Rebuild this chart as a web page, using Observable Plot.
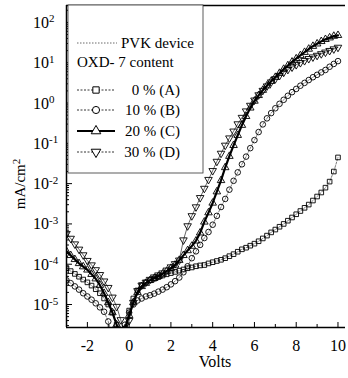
<!DOCTYPE html>
<html><head><meta charset="utf-8">
<script src="https://cdn.jsdelivr.net/npm/d3@7"></script>
<script src="https://cdn.jsdelivr.net/npm/@observablehq/plot@0.6"></script>
<style>
body{margin:0;background:#fff}
#chart svg{font-family:"Liberation Serif",serif;}
</style>
</head><body><div id="chart"></div>
<script>
// Bias voltage grid (V)
const volts = [-3.0,-2.8,-2.6,-2.4,-2.2,-2.0,-1.8,-1.6,-1.4,-1.2,-1.0,-0.8,-0.6,-0.4,-0.2,0.0,0.2,0.4,0.6,0.8,1.0,1.2,1.4,1.6,1.8,2.0,2.2,2.4,2.6,2.8,3.0,3.2,3.4,3.6,3.8,4.0,4.2,4.4,4.6,4.8,5.0,5.2,5.4,5.6,5.8,6.0,6.2,6.4,6.6,6.8,7.0,7.2,7.4,7.6,7.8,8.0,8.2,8.4,8.6,8.8,9.0,9.2,9.4,9.6,9.8,10.0];
// log10 of current density (mA/cm2)
const logA = [-4.10,-4.17,-4.24,-4.31,-4.38,-4.45,-4.53,-4.62,-4.72,-4.85,-5.00,-5.20,-5.50,-5.90,-5.60,-5.15,-4.85,-4.65,-4.52,-4.45,-4.40,-4.36,-4.32,-4.28,-4.25,-4.22,-4.19,-4.16,-4.13,-4.10,-4.08,-4.05,-4.03,-4.02,-3.98,-3.95,-3.92,-3.89,-3.85,-3.80,-3.75,-3.69,-3.63,-3.59,-3.54,-3.49,-3.43,-3.36,-3.29,-3.21,-3.14,-3.07,-3.00,-2.92,-2.84,-2.76,-2.68,-2.60,-2.52,-2.42,-2.32,-2.22,-2.10,-1.95,-1.70,-1.35];
const logB = [-4.40,-4.47,-4.55,-4.63,-4.72,-4.80,-4.88,-4.97,-5.07,-5.18,-5.42,-5.80,-6.00,-5.80,-5.50,-5.20,-5.00,-4.90,-4.85,-4.80,-4.77,-4.73,-4.68,-4.63,-4.57,-4.50,-4.42,-4.33,-4.20,-4.05,-3.85,-3.68,-3.52,-3.35,-3.20,-3.02,-2.80,-2.58,-2.38,-2.15,-1.93,-1.72,-1.52,-1.33,-1.12,-0.92,-0.72,-0.53,-0.38,-0.25,-0.13,-0.02,0.08,0.18,0.27,0.35,0.43,0.50,0.57,0.64,0.70,0.76,0.82,0.90,0.97,1.04];
const logC = [-3.68,-3.78,-3.88,-3.98,-4.06,-4.14,-4.25,-4.36,-4.52,-4.72,-4.95,-5.20,-5.50,-5.85,-5.60,-5.27,-4.95,-4.70,-4.55,-4.47,-4.40,-4.35,-4.30,-4.24,-4.17,-4.10,-4.02,-3.90,-3.78,-3.66,-3.55,-3.42,-3.22,-2.95,-2.72,-2.48,-2.20,-1.92,-1.60,-1.32,-1.05,-0.80,-0.55,-0.33,-0.12,0.05,0.19,0.32,0.43,0.54,0.64,0.74,0.84,0.93,1.02,1.10,1.18,1.26,1.34,1.41,1.47,1.53,1.58,1.62,1.66,1.68];
const logD = [-3.24,-3.36,-3.50,-3.63,-3.77,-3.91,-4.02,-4.14,-4.26,-4.42,-4.58,-4.82,-5.05,-5.38,-5.80,-5.40,-4.95,-4.66,-4.52,-4.45,-4.38,-4.32,-4.27,-4.22,-4.15,-4.07,-3.99,-3.90,-3.40,-3.05,-2.80,-2.58,-2.35,-2.12,-1.90,-1.68,-1.45,-1.25,-1.05,-0.87,-0.70,-0.52,-0.36,-0.20,-0.06,0.07,0.20,0.31,0.42,0.52,0.60,0.68,0.76,0.83,0.89,0.95,1.00,1.05,1.10,1.14,1.18,1.22,1.26,1.30,1.34,1.38];

const seriesNames = ["A","B","C","D"];
const legendLabels = ["0 % (A)","10 % (B)","20 % (C)","30 % (D)"];
const yTickValues = [1e-5,1e-4,1e-3,1e-2,1e-1,1,10,100];
const yTickExponents = ["-5","-4","-3","-2","-1","0","1","2"];
const xTickValues = [-2,0,2,4,6,8,10];
const xMinorTicks = [-3,-1,1,3,5,7,9];

const logs = {A: logA, B: logB, C: logC, D: logD};
const rows = [];
for (const s of seriesNames) volts.forEach((v,i) => rows.push({s, v, j: 10 ** logs[s][i]}));
const ofS = s => rows.filter(r => r.s === s);

const yMinorTicks = [];
for (let k = -6; k <= 2; k++) for (let m = 2; m <= 9; m++) {
  const t = m * 10 ** k; if (t > 10 ** -5.57 && t < 10 ** 2.42) yMinorTicks.push(t);
}

const yDomain = [10 ** -5.57, 10 ** 2.42];
const xDomain = [-3, 10.36];
const W = 348, H = 378;

const plot = Plot.plot({
  width: W, height: H,
  marginLeft: 66, marginRight: 3, marginTop: 5, marginBottom: 51,
  style: {fontFamily: "Liberation Serif, serif", fontSize: "16px", background: "#fff", color: "#000"},
  x: {domain: xDomain, label: null},
  y: {type: "log", domain: yDomain, label: null},
  marks: [
    Plot.line(ofS("A"), {x: "v", y: "j", stroke: "#222", strokeWidth: 0.6, strokeDasharray: "2,1.5", clip: true}),
    Plot.line(ofS("B"), {x: "v", y: "j", stroke: "#222", strokeWidth: 0.6, strokeDasharray: "2,1.5", clip: true}),
    Plot.line(ofS("D"), {x: "v", y: "j", stroke: "#222", strokeWidth: 0.7, clip: true}),
    Plot.line(ofS("C"), {x: "v", y: "j", stroke: "#000", strokeWidth: 2.2, clip: true}),
    Plot.dot(ofS("A"), {x: "v", y: "j", symbol: "square", r: 2.6, stroke: "#000", strokeWidth: 0.9, fill: "none", clip: true}),
    Plot.dot(ofS("B"), {x: "v", y: "j", symbol: "circle", r: 2.8, stroke: "#000", strokeWidth: 0.9, fill: "none", clip: true}),
    Plot.dot(ofS("C"), {x: "v", y: "j", symbol: "triangle", r: 2.8, stroke: "#000", strokeWidth: 0.9, fill: "none", clip: true}),
    Plot.dot(ofS("D"), {x: "v", y: "j", symbol: "triangle", rotate: 180, r: 2.8, stroke: "#000", strokeWidth: 0.9, fill: "none", clip: true}),
    Plot.axisX({ticks: xTickValues, tickSize: 0, tickPadding: 12, fontSize: 16, tickFormat: d => d < 0 ? "-" + Math.abs(d) : String(d)}),
    Plot.axisX({ticks: xTickValues, tickSize: -5, tickFormat: () => ""}),
    Plot.axisX({ticks: xMinorTicks, tickSize: -3, tickFormat: () => ""}),
    Plot.axisY({ticks: yTickValues, tickSize: -6, tickFormat: () => ""}),
    Plot.axisY({ticks: yMinorTicks, tickSize: -3, tickFormat: () => ""}),
    Plot.ruleX([xDomain[0]], {stroke: "#000", strokeWidth: 1.5}),
    Plot.ruleY([yDomain[0]], {stroke: "#000", strokeWidth: 1.5}),
    Plot.ruleY([yDomain[1]], {stroke: "#000", strokeWidth: 1.5})
  ]
});

document.getElementById("chart").appendChild(plot);
const svg = d3.select(plot);
const yScale = plot.scale("y");

// y tick labels with superscript exponents, placed via the plot's y scale
const yl0 = svg.append("g").attr("font-size", 16).attr("text-anchor", "start");
yTickValues.forEach((v, i) => {
  const t = yl0.append("text").attr("x", 33).attr("y", yScale.apply(v) + 6);
  t.append("tspan").text("10");
  t.append("tspan").attr("dy", "-0.5em").attr("font-size", "11px").text(yTickExponents[i]);
});

// axis titles
svg.append("text").attr("x", 215).attr("y", 367).attr("text-anchor", "middle")
  .attr("font-size", 16).text("Volts");
const yl = svg.append("text").attr("transform", "translate(25,184) rotate(-90)")
  .attr("text-anchor", "middle").attr("font-size", 15);
yl.append("tspan").text("mA/cm");
yl.append("tspan").attr("dy", "-0.45em").attr("font-size", "11px").text("2");

// legend
const lg = svg.append("g").attr("font-size", 15).attr("text-anchor", "start");
lg.append("rect").attr("x", 68).attr("y", 5).attr("width", 135).attr("height", 168)
  .attr("fill", "#fff").attr("stroke", "#333").attr("stroke-width", 0.8);
const rowY = [43, 90, 110, 131, 152];
lg.append("line").attr("x1", 77).attr("x2", 117).attr("y1", rowY[0]).attr("y2", rowY[0])
  .attr("stroke", "#444").attr("stroke-width", 0.8).attr("stroke-dasharray", "1.5,1.5");
lg.append("text").attr("x", 121).attr("y", rowY[0] + 5).text("PVK device");
lg.append("text").attr("x", 77).attr("y", 67).text("OXD- 7 content");
const sym = [d3.symbolSquare, d3.symbolCircle, d3.symbolTriangle, d3.symbolTriangle];
legendLabels.forEach((lab, i) => {
  const y = rowY[i + 1];
  lg.append("line").attr("x1", 77).attr("x2", 115).attr("y1", y).attr("y2", y)
    .attr("stroke", "#000").attr("stroke-width", i === 2 ? 2 : 0.8)
    .attr("stroke-dasharray", i === 2 ? null : "2,1.5");
  lg.append("path").attr("d", d3.symbol(sym[i], 40)())
    .attr("transform", `translate(96,${y}) rotate(${i === 3 ? 180 : 0})`)
    .attr("fill", "#fff").attr("stroke", "#000").attr("stroke-width", 1);
  lg.append("text").attr("x", 180).attr("y", y + 5).attr("text-anchor", "end").text(lab);
});
</script>
</body></html>
